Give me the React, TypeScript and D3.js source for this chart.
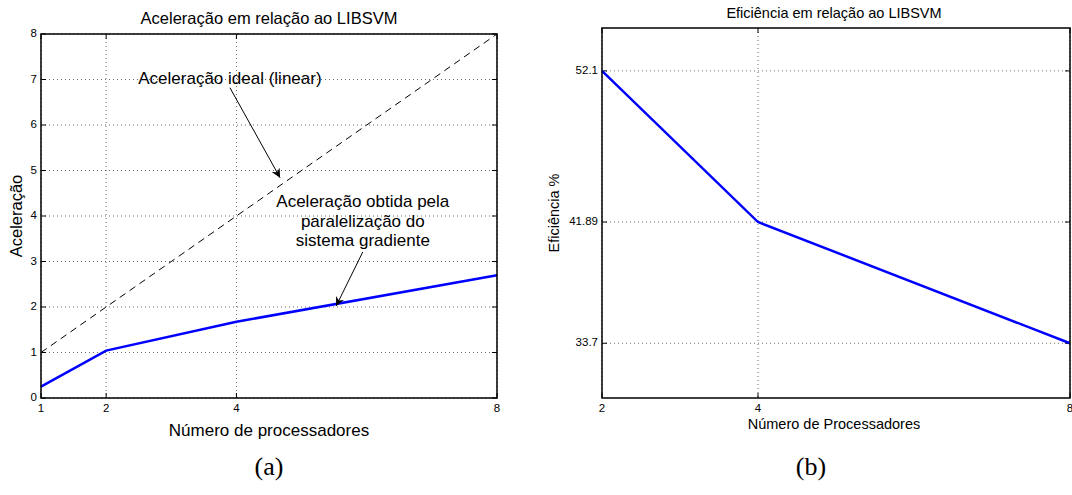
import * as d3 from "d3";

// (a) speedup vs number of processors
const procsA = [1, 2, 4, 8];
const speedup = [0.25, 1.042, 1.676, 2.696];
const idealX = [1, 8];
const idealY = [1, 8];
const ticksXA = [1, 2, 4, 8];
const ticksYA = [0, 1, 2, 3, 4, 5, 6, 7, 8];

// (b) efficiency vs number of processors
const procsB = [2, 4, 8];
const efficiency = [52.1, 41.89, 33.7];
const ticksXB = [2, 4, 8];
const ticksYB = [33.7, 41.89, 52.1];

// annotations (data coordinates of panel a)
const noteIdeal = { text: ["Aceleração ideal (linear)"], at: [3.9, 7.0], from: [3.9, 6.82], to: [4.67, 4.84] };
const noteReal = {
    text: ["Aceleração obtida pela", "paralelização do", "sistema gradiente"],
    at: [5.94, 4.29],
    from: [5.94, 3.21],
    to: [5.53, 2.02],
};

const FONT = "'Liberation Sans', Arial, sans-serif";

const Panel = ({ x, y, xTicks, yTicks, yFmt, tickSize, children }) => {
    const [x0, x1] = x.range();
    const [y0, y1] = y.range();
    return (
        <g fontFamily={FONT}>
            {xTicks.map((t, i) => (
                <g key={"gx" + i}>
                    <line x1={x(t)} x2={x(t)} y1={y1} y2={y0} stroke="#444" strokeWidth={0.8} strokeDasharray="1,3" />
                    <line x1={x(t)} x2={x(t)} y1={y0} y2={y0 - 5} stroke="#000" />
                    <line x1={x(t)} x2={x(t)} y1={y1} y2={y1 + 5} stroke="#000" />
                    <text x={x(t)} y={y0 + 11} textAnchor="middle" dominantBaseline="middle" fontSize={tickSize}>{t}</text>
                </g>
            ))}
            {yTicks.map((t, i) => (
                <g key={"gy" + i}>
                    <line x1={x0} x2={x1} y1={y(t)} y2={y(t)} stroke="#444" strokeWidth={0.8} strokeDasharray="1,3" />
                    <line x1={x0} x2={x0 + 5} y1={y(t)} y2={y(t)} stroke="#000" />
                    <line x1={x1} x2={x1 - 5} y1={y(t)} y2={y(t)} stroke="#000" />
                    <text x={x0 - 4} y={y(t)} textAnchor="end" dominantBaseline="middle" fontSize={tickSize}>{yFmt(t)}</text>
                </g>
            ))}
            {children}
            <rect x={x0} y={y1} width={x1 - x0} height={y0 - y1} fill="none" stroke="#000" strokeWidth={1.5} />
        </g>
    );
};

const App = () => {
    // panel (a)
    const xA = d3.scaleLinear().domain([1, 8]).range([41, 497]);
    const yA = d3.scaleLinear().domain([0, 8]).range([398, 34]);
    const lineA = d3.line<number>().x((d, i) => xA(procsA[i])).y(d => yA(d));
    const idealLine = d3.line<number>().x((d, i) => xA(idealX[i])).y(d => yA(d));

    // panel (b)
    const xB = d3.scaleLinear().domain([2, 8]).range([602, 1070]);
    const yB = d3.scaleLinear().domain([30, 55]).range([398, 28]);
    const lineB = d3.line<number>().x((d, i) => xB(procsB[i])).y(d => yB(d));

    const arrow = (n, key) => (
        <g key={key}>
            <line x1={xA(n.from[0])} y1={yA(n.from[1])} x2={xA(n.to[0])} y2={yA(n.to[1])} stroke="#000" strokeWidth={1} markerEnd="url(#arr)" />
            {n.text.map((t, i) => (
                <text key={i} x={xA(n.at[0])} y={yA(n.at[1]) + i * 19.5} textAnchor="middle" dominantBaseline="middle" fontSize={17} fontFamily={FONT}>{t}</text>
            ))}
        </g>
    );

    return (
        <svg width={1072} height={495} style={{ position: "absolute", left: 0, top: 0, background: "#fff" }}>
            <defs>
                <marker id="arr" viewBox="0 0 10 10" refX={10} refY={5} markerWidth={9} markerHeight={9} markerUnits="userSpaceOnUse" orient="auto">
                    <path d="M0,0 L10,5 L0,10 L3,5 Z" fill="#000" />
                </marker>
            </defs>
            <rect width={1072} height={495} fill="#fff" />

            <Panel x={xA} y={yA} xTicks={ticksXA} yTicks={ticksYA} yFmt={d => d} tickSize={11.5}>
                <path d={idealLine(idealY)} fill="none" stroke="#000" strokeWidth={1} strokeDasharray="7,5" />
                <path d={lineA(speedup)} fill="none" stroke="#0000ff" strokeWidth={2.5} />
                {arrow(noteIdeal, "a1")}
                {arrow(noteReal, "a2")}
            </Panel>
            <text x={269} y={20} textAnchor="middle" dominantBaseline="middle" fontSize={16.5} fontFamily={FONT}>Aceleração em relação ao LIBSVM</text>
            <text x={269} y={432} textAnchor="middle" dominantBaseline="middle" fontSize={17} fontFamily={FONT}>Número de processadores</text>
            <text transform="translate(18,216) rotate(-90)" textAnchor="middle" dominantBaseline="middle" fontSize={16.5} fontFamily={FONT}>Aceleração</text>

            <Panel x={xB} y={yB} xTicks={ticksXB} yTicks={ticksYB} yFmt={d => d} tickSize={11.5}>
                <path d={lineB(efficiency)} fill="none" stroke="#0000ff" strokeWidth={2.5} />
            </Panel>
            <text x={834} y={14} textAnchor="middle" dominantBaseline="middle" fontSize={14.5} fontFamily={FONT}>Eficiência em relação ao LIBSVM</text>
            <text x={834} y={425} textAnchor="middle" dominantBaseline="middle" fontSize={14.5} fontFamily={FONT}>Número de Processadores</text>
            <text transform="translate(555,213) rotate(-90)" textAnchor="middle" dominantBaseline="middle" fontSize={14.5} fontFamily={FONT}>Eficiência %</text>

            <text x={269} y={469} textAnchor="middle" dominantBaseline="middle" fontSize={26} fontFamily="'Liberation Serif', 'Times New Roman', serif">(a)</text>
            <text x={811} y={469} textAnchor="middle" dominantBaseline="middle" fontSize={26} fontFamily="'Liberation Serif', 'Times New Roman', serif">(b)</text>
        </svg>
    );
};

export default App;
